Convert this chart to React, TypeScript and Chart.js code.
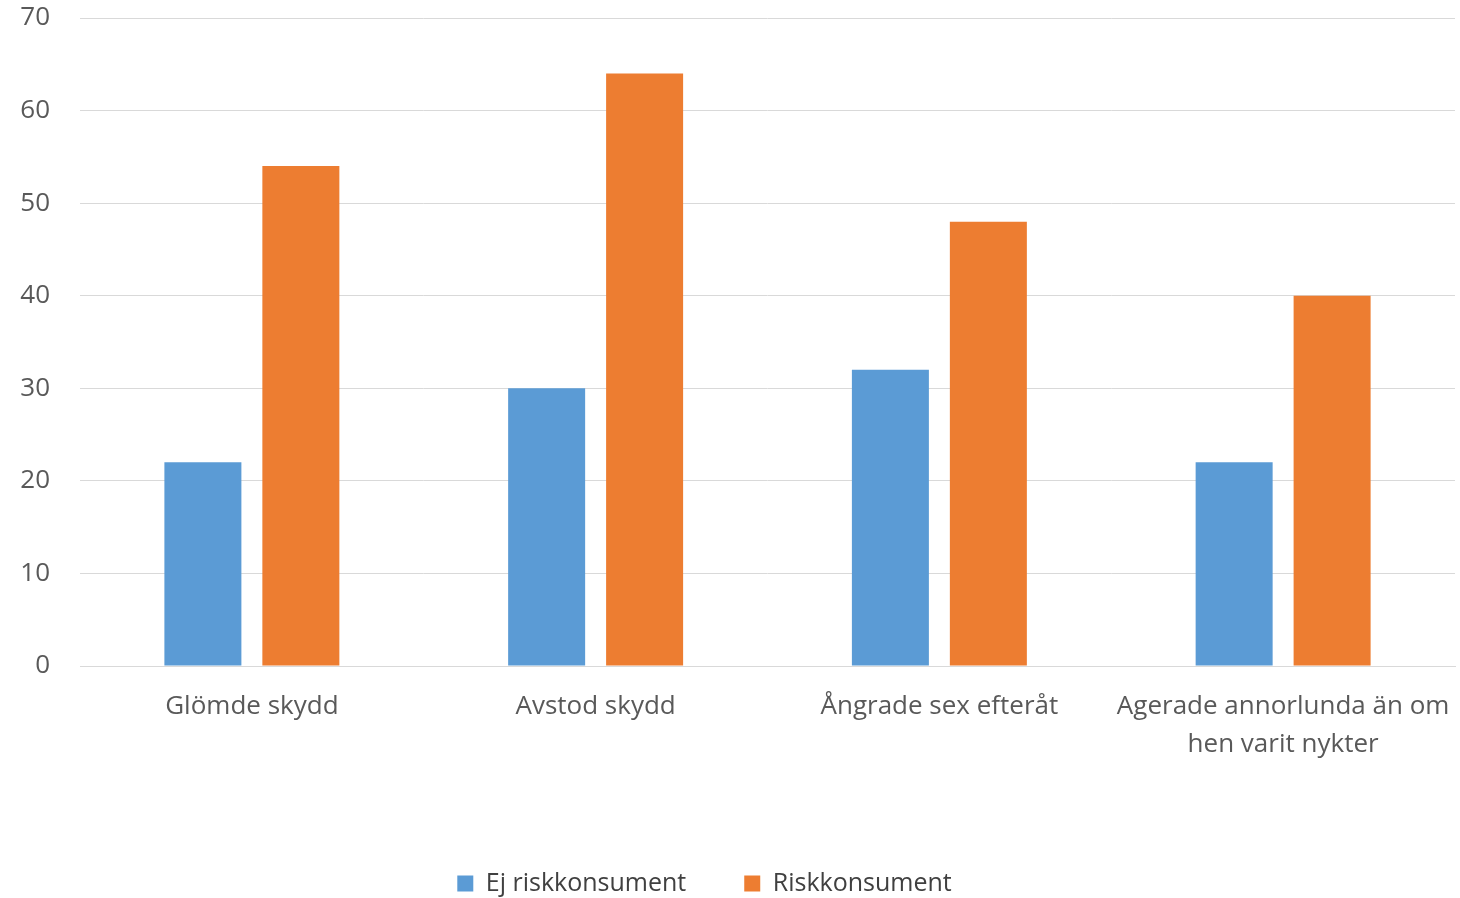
import React, { useEffect, useRef } from "react";
import { Chart, registerables } from "chart.js";

Chart.register(...registerables);

const categories: (string | string[])[] = [
  "Glömde skydd",
  "Avstod skydd",
  "Ångrade sex efteråt",
  ["Agerade annorlunda än om", "hen varit nykter"],
];
const seriesNames = ["Ej riskkonsument", "Riskkonsument"];
const ejRisk = [22, 30, 32, 22];
const risk = [54, 64, 48, 40];
const yMin = 0;
const yMax = 70;
const yStep = 10;

const legendShift = {
  id: "legendShift",
  afterLayout(chart: any) {
    if (chart.legend) {
      chart.legend.left -= 23;
      chart.legend.right -= 23;
    }
  },
};

export default function App() {
  const ref = useRef<HTMLCanvasElement | null>(null);
  useEffect(() => {
    document.body.style.margin = "0";
    const ctx = ref.current!.getContext("2d")!;
    const font = "'Open Sans', 'Noto Sans', sans-serif";
    const chart = new Chart(ctx, {
      type: "bar",
      data: {
        labels: categories,
        datasets: [
          { label: seriesNames[0], data: ejRisk, backgroundColor: "#5B9BD5" },
          { label: seriesNames[1], data: risk, backgroundColor: "#ED7D31" },
        ],
      },
      plugins: [legendShift],
      options: {
        animation: false,
        responsive: false,
        devicePixelRatio: 1,
        layout: { padding: { left: 0, right: 5, top: 18, bottom: -8 } },
        datasets: { bar: { categoryPercentage: 0.57, barPercentage: 0.786 } },
        plugins: {
          tooltip: { enabled: false },
          legend: {
            position: "bottom",
            labels: {
              color: "#404040",
              font: { family: font, size: 25 },
              boxWidth: 16,
              boxHeight: 16,
              padding: 58,
            },
          },
        },
        scales: {
          x: {
            grid: { display: false, drawTicks: false },
            border: { display: true, color: "#D9D9D9", width: 1 },
            ticks: {
              color: "#595959",
              font: { family: font, size: 26, lineHeight: 1.45 },
              padding: 22,
              maxRotation: 0,
              autoSkip: false,
            },
            afterFit: (s: any) => {
              s.height = 147;
              s.paddingLeft = 0;
              s.paddingRight = 0;
            },
          },
          y: {
            min: yMin,
            max: yMax,
            ticks: {
              stepSize: yStep,
              color: "#595959",
              font: { family: font, size: 26 },
              padding: 30,
            },
            afterFit: (s: any) => {
              s.width = 80;
              s.paddingTop = 0;
              s.paddingBottom = 0;
            },
            grid: { color: "#D9D9D9", drawTicks: false },
            border: { display: false },
          },
        },
      },
    });
    return () => chart.destroy();
  }, []);
  return (
    <div style={{ position: "fixed", left: 0, top: 0, width: 1460, height: 898 }}>
      <canvas ref={ref} width={1460} height={898} />
    </div>
  );
}
